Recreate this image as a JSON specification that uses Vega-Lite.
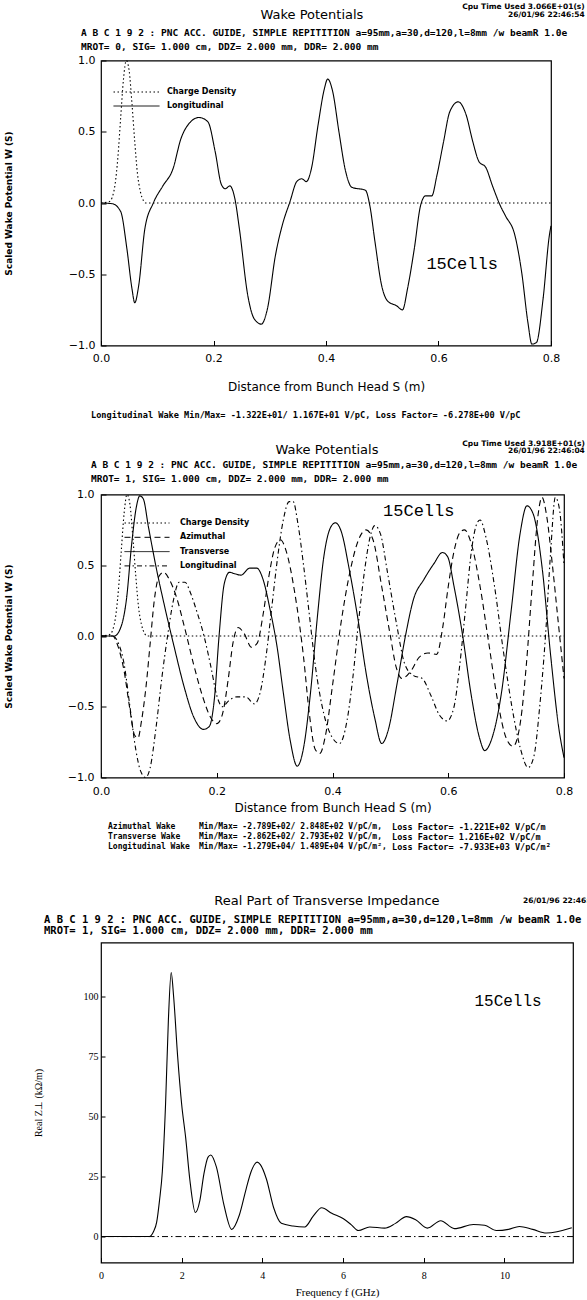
{
  "$schema": "https://vega.github.io/schema/vega-lite/v6.json",
  "padding": {"left": 3, "top": 2.5, "right": 0, "bottom": 0},
  "background": "white",
  "config": {
    "view": {"stroke": "black", "strokeWidth": 1.2},
    "axis": {"domain": false, "grid": false, "tickColor": "black", "labelColor": "black", "titleColor": "black", "labelFlush": false, "labelOverlap": false, "tickWidth": 1},
    "text": {"color": "black"},
    "line": {"color": "black"}
  },
  "datasets": {
    "p1": [
      {"s": 0, "w": 0, "series": "Charge Density"},
      {"s": 0.015, "w": 0.01, "series": "Charge Density"},
      {"s": 0.02, "w": 0.04, "series": "Charge Density"},
      {"s": 0.025, "w": 0.13, "series": "Charge Density"},
      {"s": 0.03, "w": 0.32, "series": "Charge Density"},
      {"s": 0.035, "w": 0.6, "series": "Charge Density"},
      {"s": 0.04, "w": 0.87, "series": "Charge Density"},
      {"s": 0.045, "w": 1.0, "series": "Charge Density"},
      {"s": 0.05, "w": 0.93, "series": "Charge Density"},
      {"s": 0.055, "w": 0.7, "series": "Charge Density"},
      {"s": 0.06, "w": 0.43, "series": "Charge Density"},
      {"s": 0.065, "w": 0.2, "series": "Charge Density"},
      {"s": 0.07, "w": 0.08, "series": "Charge Density"},
      {"s": 0.075, "w": 0.02, "series": "Charge Density"},
      {"s": 0.08, "w": 0, "series": "Charge Density"},
      {"s": 0.8, "w": 0, "series": "Charge Density"},
      {"s": 0, "w": 0, "series": "Longitudinal"},
      {"s": 0.02, "w": -0.005, "series": "Longitudinal"},
      {"s": 0.035, "w": -0.06, "series": "Longitudinal"},
      {"s": 0.046, "w": -0.32, "series": "Longitudinal"},
      {"s": 0.055, "w": -0.6, "series": "Longitudinal"},
      {"s": 0.06, "w": -0.7, "series": "Longitudinal"},
      {"s": 0.067, "w": -0.58, "series": "Longitudinal"},
      {"s": 0.078, "w": -0.18, "series": "Longitudinal"},
      {"s": 0.093, "w": 0, "series": "Longitudinal"},
      {"s": 0.11, "w": 0.12, "series": "Longitudinal"},
      {"s": 0.128, "w": 0.24, "series": "Longitudinal"},
      {"s": 0.142, "w": 0.45, "series": "Longitudinal"},
      {"s": 0.157, "w": 0.56, "series": "Longitudinal"},
      {"s": 0.174, "w": 0.6, "series": "Longitudinal"},
      {"s": 0.19, "w": 0.57, "series": "Longitudinal"},
      {"s": 0.203, "w": 0.36, "series": "Longitudinal"},
      {"s": 0.214, "w": 0.13, "series": "Longitudinal"},
      {"s": 0.221, "w": 0.1, "series": "Longitudinal"},
      {"s": 0.229, "w": 0.12, "series": "Longitudinal"},
      {"s": 0.238, "w": 0.03, "series": "Longitudinal"},
      {"s": 0.246, "w": -0.18, "series": "Longitudinal"},
      {"s": 0.261, "w": -0.65, "series": "Longitudinal"},
      {"s": 0.272, "w": -0.81, "series": "Longitudinal"},
      {"s": 0.285, "w": -0.85, "series": "Longitudinal"},
      {"s": 0.296, "w": -0.74, "series": "Longitudinal"},
      {"s": 0.31, "w": -0.37, "series": "Longitudinal"},
      {"s": 0.322, "w": -0.16, "series": "Longitudinal"},
      {"s": 0.336, "w": 0.01, "series": "Longitudinal"},
      {"s": 0.348, "w": 0.15, "series": "Longitudinal"},
      {"s": 0.357, "w": 0.17, "series": "Longitudinal"},
      {"s": 0.365, "w": 0.15, "series": "Longitudinal"},
      {"s": 0.374, "w": 0.24, "series": "Longitudinal"},
      {"s": 0.386, "w": 0.55, "series": "Longitudinal"},
      {"s": 0.397, "w": 0.8, "series": "Longitudinal"},
      {"s": 0.403, "w": 0.87, "series": "Longitudinal"},
      {"s": 0.412, "w": 0.78, "series": "Longitudinal"},
      {"s": 0.423, "w": 0.5, "series": "Longitudinal"},
      {"s": 0.435, "w": 0.22, "series": "Longitudinal"},
      {"s": 0.446, "w": 0.11, "series": "Longitudinal"},
      {"s": 0.47, "w": 0.09, "series": "Longitudinal"},
      {"s": 0.478, "w": -0.02, "series": "Longitudinal"},
      {"s": 0.487, "w": -0.27, "series": "Longitudinal"},
      {"s": 0.499, "w": -0.58, "series": "Longitudinal"},
      {"s": 0.51, "w": -0.69, "series": "Longitudinal"},
      {"s": 0.525, "w": -0.72, "series": "Longitudinal"},
      {"s": 0.536, "w": -0.75, "series": "Longitudinal"},
      {"s": 0.545, "w": -0.6, "series": "Longitudinal"},
      {"s": 0.557, "w": -0.32, "series": "Longitudinal"},
      {"s": 0.568, "w": -0.02, "series": "Longitudinal"},
      {"s": 0.577, "w": 0.05, "series": "Longitudinal"},
      {"s": 0.588, "w": 0.05, "series": "Longitudinal"},
      {"s": 0.597, "w": 0.19, "series": "Longitudinal"},
      {"s": 0.609, "w": 0.43, "series": "Longitudinal"},
      {"s": 0.62, "w": 0.64, "series": "Longitudinal"},
      {"s": 0.635, "w": 0.71, "series": "Longitudinal"},
      {"s": 0.649, "w": 0.62, "series": "Longitudinal"},
      {"s": 0.661, "w": 0.43, "series": "Longitudinal"},
      {"s": 0.672, "w": 0.29, "series": "Longitudinal"},
      {"s": 0.684, "w": 0.25, "series": "Longitudinal"},
      {"s": 0.696, "w": 0.12, "series": "Longitudinal"},
      {"s": 0.71, "w": -0.02, "series": "Longitudinal"},
      {"s": 0.719, "w": -0.09, "series": "Longitudinal"},
      {"s": 0.736, "w": -0.23, "series": "Longitudinal"},
      {"s": 0.748, "w": -0.49, "series": "Longitudinal"},
      {"s": 0.759, "w": -0.84, "series": "Longitudinal"},
      {"s": 0.766, "w": -0.99, "series": "Longitudinal"},
      {"s": 0.774, "w": -0.98, "series": "Longitudinal"},
      {"s": 0.786, "w": -0.67, "series": "Longitudinal"},
      {"s": 0.797, "w": -0.23, "series": "Longitudinal"},
      {"s": 0.8, "w": -0.16, "series": "Longitudinal"}
    ],
    "p2": [
      {"s": 0, "w": 0, "series": "Charge Density"},
      {"s": 0.015, "w": 0.01, "series": "Charge Density"},
      {"s": 0.02, "w": 0.04, "series": "Charge Density"},
      {"s": 0.025, "w": 0.13, "series": "Charge Density"},
      {"s": 0.03, "w": 0.32, "series": "Charge Density"},
      {"s": 0.035, "w": 0.6, "series": "Charge Density"},
      {"s": 0.04, "w": 0.87, "series": "Charge Density"},
      {"s": 0.045, "w": 1.0, "series": "Charge Density"},
      {"s": 0.05, "w": 0.93, "series": "Charge Density"},
      {"s": 0.055, "w": 0.7, "series": "Charge Density"},
      {"s": 0.06, "w": 0.43, "series": "Charge Density"},
      {"s": 0.065, "w": 0.2, "series": "Charge Density"},
      {"s": 0.07, "w": 0.08, "series": "Charge Density"},
      {"s": 0.075, "w": 0.02, "series": "Charge Density"},
      {"s": 0.08, "w": 0, "series": "Charge Density"},
      {"s": 0.8, "w": 0, "series": "Charge Density"},
      {"s": 0, "w": 0, "series": "Azimuthal"},
      {"s": 0.02, "w": 0, "series": "Azimuthal"},
      {"s": 0.03, "w": -0.08, "series": "Azimuthal"},
      {"s": 0.04, "w": -0.25, "series": "Azimuthal"},
      {"s": 0.05, "w": -0.52, "series": "Azimuthal"},
      {"s": 0.058, "w": -0.7, "series": "Azimuthal"},
      {"s": 0.064, "w": -0.72, "series": "Azimuthal"},
      {"s": 0.07, "w": -0.6, "series": "Azimuthal"},
      {"s": 0.078, "w": -0.35, "series": "Azimuthal"},
      {"s": 0.085, "w": -0.05, "series": "Azimuthal"},
      {"s": 0.092, "w": 0.25, "series": "Azimuthal"},
      {"s": 0.1, "w": 0.42, "series": "Azimuthal"},
      {"s": 0.108, "w": 0.45, "series": "Azimuthal"},
      {"s": 0.118, "w": 0.4, "series": "Azimuthal"},
      {"s": 0.13, "w": 0.28, "series": "Azimuthal"},
      {"s": 0.145, "w": 0.05, "series": "Azimuthal"},
      {"s": 0.16, "w": -0.2, "series": "Azimuthal"},
      {"s": 0.175, "w": -0.42, "series": "Azimuthal"},
      {"s": 0.19, "w": -0.58, "series": "Azimuthal"},
      {"s": 0.2, "w": -0.62, "series": "Azimuthal"},
      {"s": 0.21, "w": -0.55, "series": "Azimuthal"},
      {"s": 0.22, "w": -0.3, "series": "Azimuthal"},
      {"s": 0.228, "w": -0.05, "series": "Azimuthal"},
      {"s": 0.237, "w": 0.06, "series": "Azimuthal"},
      {"s": 0.247, "w": 0.02, "series": "Azimuthal"},
      {"s": 0.26, "w": -0.08, "series": "Azimuthal"},
      {"s": 0.27, "w": -0.05, "series": "Azimuthal"},
      {"s": 0.28, "w": 0.15, "series": "Azimuthal"},
      {"s": 0.29, "w": 0.42, "series": "Azimuthal"},
      {"s": 0.3, "w": 0.62, "series": "Azimuthal"},
      {"s": 0.31, "w": 0.68, "series": "Azimuthal"},
      {"s": 0.32, "w": 0.6, "series": "Azimuthal"},
      {"s": 0.335, "w": 0.3, "series": "Azimuthal"},
      {"s": 0.35, "w": -0.15, "series": "Azimuthal"},
      {"s": 0.36, "w": -0.55, "series": "Azimuthal"},
      {"s": 0.37, "w": -0.8, "series": "Azimuthal"},
      {"s": 0.378, "w": -0.83, "series": "Azimuthal"},
      {"s": 0.388, "w": -0.7, "series": "Azimuthal"},
      {"s": 0.4, "w": -0.35, "series": "Azimuthal"},
      {"s": 0.415, "w": 0.1, "series": "Azimuthal"},
      {"s": 0.43, "w": 0.45, "series": "Azimuthal"},
      {"s": 0.445, "w": 0.68, "series": "Azimuthal"},
      {"s": 0.458, "w": 0.75, "series": "Azimuthal"},
      {"s": 0.47, "w": 0.68, "series": "Azimuthal"},
      {"s": 0.485, "w": 0.35, "series": "Azimuthal"},
      {"s": 0.5, "w": 0.0, "series": "Azimuthal"},
      {"s": 0.51, "w": -0.22, "series": "Azimuthal"},
      {"s": 0.52, "w": -0.3, "series": "Azimuthal"},
      {"s": 0.535, "w": -0.25, "series": "Azimuthal"},
      {"s": 0.55, "w": -0.15, "series": "Azimuthal"},
      {"s": 0.565, "w": -0.12, "series": "Azimuthal"},
      {"s": 0.58, "w": -0.13, "series": "Azimuthal"},
      {"s": 0.59, "w": 0.05, "series": "Azimuthal"},
      {"s": 0.6, "w": 0.35, "series": "Azimuthal"},
      {"s": 0.61, "w": 0.6, "series": "Azimuthal"},
      {"s": 0.62, "w": 0.73, "series": "Azimuthal"},
      {"s": 0.628, "w": 0.75, "series": "Azimuthal"},
      {"s": 0.64, "w": 0.65, "series": "Azimuthal"},
      {"s": 0.655, "w": 0.35, "series": "Azimuthal"},
      {"s": 0.67, "w": -0.05, "series": "Azimuthal"},
      {"s": 0.685, "w": -0.45, "series": "Azimuthal"},
      {"s": 0.7, "w": -0.72, "series": "Azimuthal"},
      {"s": 0.712, "w": -0.78, "series": "Azimuthal"},
      {"s": 0.725, "w": -0.6, "series": "Azimuthal"},
      {"s": 0.735, "w": -0.2, "series": "Azimuthal"},
      {"s": 0.745, "w": 0.35, "series": "Azimuthal"},
      {"s": 0.755, "w": 0.85, "series": "Azimuthal"},
      {"s": 0.762, "w": 0.98, "series": "Azimuthal"},
      {"s": 0.77, "w": 0.85, "series": "Azimuthal"},
      {"s": 0.78, "w": 0.5, "series": "Azimuthal"},
      {"s": 0.79, "w": 0.1, "series": "Azimuthal"},
      {"s": 0.8, "w": -0.3, "series": "Azimuthal"},
      {"s": 0, "w": 0, "series": "Transverse"},
      {"s": 0.023, "w": 0, "series": "Transverse"},
      {"s": 0.035, "w": 0.07, "series": "Transverse"},
      {"s": 0.044, "w": 0.26, "series": "Transverse"},
      {"s": 0.053, "w": 0.65, "series": "Transverse"},
      {"s": 0.061, "w": 0.91, "series": "Transverse"},
      {"s": 0.067, "w": 0.99, "series": "Transverse"},
      {"s": 0.073, "w": 0.97, "series": "Transverse"},
      {"s": 0.082, "w": 0.77, "series": "Transverse"},
      {"s": 0.096, "w": 0.47, "series": "Transverse"},
      {"s": 0.111, "w": 0.19, "series": "Transverse"},
      {"s": 0.126, "w": -0.07, "series": "Transverse"},
      {"s": 0.143, "w": -0.35, "series": "Transverse"},
      {"s": 0.161, "w": -0.58, "series": "Transverse"},
      {"s": 0.177, "w": -0.66, "series": "Transverse"},
      {"s": 0.187, "w": -0.64, "series": "Transverse"},
      {"s": 0.196, "w": -0.44, "series": "Transverse"},
      {"s": 0.204, "w": 0, "series": "Transverse"},
      {"s": 0.213, "w": 0.37, "series": "Transverse"},
      {"s": 0.222, "w": 0.45, "series": "Transverse"},
      {"s": 0.231, "w": 0.44, "series": "Transverse"},
      {"s": 0.242, "w": 0.43, "series": "Transverse"},
      {"s": 0.257, "w": 0.48, "series": "Transverse"},
      {"s": 0.269, "w": 0.48, "series": "Transverse"},
      {"s": 0.28, "w": 0.4, "series": "Transverse"},
      {"s": 0.292, "w": 0.19, "series": "Transverse"},
      {"s": 0.304, "w": -0.07, "series": "Transverse"},
      {"s": 0.315, "w": -0.4, "series": "Transverse"},
      {"s": 0.327, "w": -0.74, "series": "Transverse"},
      {"s": 0.339, "w": -0.92, "series": "Transverse"},
      {"s": 0.35, "w": -0.79, "series": "Transverse"},
      {"s": 0.362, "w": -0.4, "series": "Transverse"},
      {"s": 0.374, "w": 0.14, "series": "Transverse"},
      {"s": 0.385, "w": 0.56, "series": "Transverse"},
      {"s": 0.397, "w": 0.77, "series": "Transverse"},
      {"s": 0.405, "w": 0.8, "series": "Transverse"},
      {"s": 0.415, "w": 0.74, "series": "Transverse"},
      {"s": 0.429, "w": 0.47, "series": "Transverse"},
      {"s": 0.444, "w": 0.12, "series": "Transverse"},
      {"s": 0.458, "w": -0.26, "series": "Transverse"},
      {"s": 0.473, "w": -0.58, "series": "Transverse"},
      {"s": 0.485, "w": -0.76, "series": "Transverse"},
      {"s": 0.496, "w": -0.67, "series": "Transverse"},
      {"s": 0.511, "w": -0.35, "series": "Transverse"},
      {"s": 0.526, "w": 0, "series": "Transverse"},
      {"s": 0.54, "w": 0.26, "series": "Transverse"},
      {"s": 0.558, "w": 0.4, "series": "Transverse"},
      {"s": 0.575, "w": 0.51, "series": "Transverse"},
      {"s": 0.59, "w": 0.59, "series": "Transverse"},
      {"s": 0.599, "w": 0.56, "series": "Transverse"},
      {"s": 0.61, "w": 0.35, "series": "Transverse"},
      {"s": 0.625, "w": 0, "series": "Transverse"},
      {"s": 0.639, "w": -0.4, "series": "Transverse"},
      {"s": 0.654, "w": -0.72, "series": "Transverse"},
      {"s": 0.663, "w": -0.81, "series": "Transverse"},
      {"s": 0.674, "w": -0.74, "series": "Transverse"},
      {"s": 0.692, "w": -0.4, "series": "Transverse"},
      {"s": 0.709, "w": 0.19, "series": "Transverse"},
      {"s": 0.724, "w": 0.72, "series": "Transverse"},
      {"s": 0.736, "w": 0.92, "series": "Transverse"},
      {"s": 0.747, "w": 0.86, "series": "Transverse"},
      {"s": 0.762, "w": 0.49, "series": "Transverse"},
      {"s": 0.777, "w": -0.14, "series": "Transverse"},
      {"s": 0.791, "w": -0.65, "series": "Transverse"},
      {"s": 0.8, "w": -0.86, "series": "Transverse"},
      {"s": 0, "w": 0, "series": "Longitudinal"},
      {"s": 0.02, "w": 0, "series": "Longitudinal"},
      {"s": 0.03, "w": -0.05, "series": "Longitudinal"},
      {"s": 0.04, "w": -0.2, "series": "Longitudinal"},
      {"s": 0.05, "w": -0.5, "series": "Longitudinal"},
      {"s": 0.06, "w": -0.8, "series": "Longitudinal"},
      {"s": 0.068, "w": -0.95, "series": "Longitudinal"},
      {"s": 0.077, "w": -1.0, "series": "Longitudinal"},
      {"s": 0.085, "w": -0.93, "series": "Longitudinal"},
      {"s": 0.095, "w": -0.65, "series": "Longitudinal"},
      {"s": 0.105, "w": -0.3, "series": "Longitudinal"},
      {"s": 0.115, "w": 0.0, "series": "Longitudinal"},
      {"s": 0.125, "w": 0.25, "series": "Longitudinal"},
      {"s": 0.135, "w": 0.38, "series": "Longitudinal"},
      {"s": 0.145, "w": 0.38, "series": "Longitudinal"},
      {"s": 0.155, "w": 0.3, "series": "Longitudinal"},
      {"s": 0.165, "w": 0.18, "series": "Longitudinal"},
      {"s": 0.178, "w": 0.0, "series": "Longitudinal"},
      {"s": 0.19, "w": -0.22, "series": "Longitudinal"},
      {"s": 0.2, "w": -0.42, "series": "Longitudinal"},
      {"s": 0.21, "w": -0.5, "series": "Longitudinal"},
      {"s": 0.22, "w": -0.46, "series": "Longitudinal"},
      {"s": 0.235, "w": -0.43, "series": "Longitudinal"},
      {"s": 0.25, "w": -0.43, "series": "Longitudinal"},
      {"s": 0.265, "w": -0.48, "series": "Longitudinal"},
      {"s": 0.275, "w": -0.4, "series": "Longitudinal"},
      {"s": 0.285, "w": -0.15, "series": "Longitudinal"},
      {"s": 0.295, "w": 0.2, "series": "Longitudinal"},
      {"s": 0.305, "w": 0.55, "series": "Longitudinal"},
      {"s": 0.315, "w": 0.82, "series": "Longitudinal"},
      {"s": 0.325, "w": 0.95, "series": "Longitudinal"},
      {"s": 0.332, "w": 0.95, "series": "Longitudinal"},
      {"s": 0.34, "w": 0.8, "series": "Longitudinal"},
      {"s": 0.35, "w": 0.5, "series": "Longitudinal"},
      {"s": 0.36, "w": 0.15, "series": "Longitudinal"},
      {"s": 0.37, "w": -0.2, "series": "Longitudinal"},
      {"s": 0.385, "w": -0.55, "series": "Longitudinal"},
      {"s": 0.4, "w": -0.72, "series": "Longitudinal"},
      {"s": 0.412, "w": -0.76, "series": "Longitudinal"},
      {"s": 0.425, "w": -0.6, "series": "Longitudinal"},
      {"s": 0.435, "w": -0.3, "series": "Longitudinal"},
      {"s": 0.445, "w": 0.1, "series": "Longitudinal"},
      {"s": 0.455, "w": 0.45, "series": "Longitudinal"},
      {"s": 0.465, "w": 0.7, "series": "Longitudinal"},
      {"s": 0.473, "w": 0.78, "series": "Longitudinal"},
      {"s": 0.483, "w": 0.72, "series": "Longitudinal"},
      {"s": 0.495, "w": 0.45, "series": "Longitudinal"},
      {"s": 0.51, "w": 0.1, "series": "Longitudinal"},
      {"s": 0.525, "w": -0.2, "series": "Longitudinal"},
      {"s": 0.54, "w": -0.28, "series": "Longitudinal"},
      {"s": 0.555, "w": -0.3, "series": "Longitudinal"},
      {"s": 0.57, "w": -0.42, "series": "Longitudinal"},
      {"s": 0.585, "w": -0.56, "series": "Longitudinal"},
      {"s": 0.598, "w": -0.6, "series": "Longitudinal"},
      {"s": 0.61, "w": -0.5, "series": "Longitudinal"},
      {"s": 0.62, "w": -0.2, "series": "Longitudinal"},
      {"s": 0.63, "w": 0.2, "series": "Longitudinal"},
      {"s": 0.64, "w": 0.6, "series": "Longitudinal"},
      {"s": 0.65, "w": 0.8, "series": "Longitudinal"},
      {"s": 0.655, "w": 0.82, "series": "Longitudinal"},
      {"s": 0.665, "w": 0.7, "series": "Longitudinal"},
      {"s": 0.68, "w": 0.35, "series": "Longitudinal"},
      {"s": 0.695, "w": -0.1, "series": "Longitudinal"},
      {"s": 0.71, "w": -0.5, "series": "Longitudinal"},
      {"s": 0.725, "w": -0.8, "series": "Longitudinal"},
      {"s": 0.738, "w": -0.93, "series": "Longitudinal"},
      {"s": 0.748, "w": -0.85, "series": "Longitudinal"},
      {"s": 0.758, "w": -0.5, "series": "Longitudinal"},
      {"s": 0.768, "w": 0.0, "series": "Longitudinal"},
      {"s": 0.777, "w": 0.6, "series": "Longitudinal"},
      {"s": 0.785, "w": 0.98, "series": "Longitudinal"},
      {"s": 0.792, "w": 0.9, "series": "Longitudinal"},
      {"s": 0.8, "w": 0.5, "series": "Longitudinal"}
    ],
    "p3": [
      {"f": 0, "z": 0}, {"f": 1.2, "z": 0}, {"f": 1.3, "z": 2}, {"f": 1.38, "z": 6},
      {"f": 1.45, "z": 15}, {"f": 1.52, "z": 27}, {"f": 1.6, "z": 55}, {"f": 1.67, "z": 90},
      {"f": 1.74, "z": 110}, {"f": 1.8, "z": 100}, {"f": 1.9, "z": 75}, {"f": 2.0, "z": 55},
      {"f": 2.1, "z": 41}, {"f": 2.2, "z": 24}, {"f": 2.34, "z": 10}, {"f": 2.45, "z": 15},
      {"f": 2.55, "z": 26}, {"f": 2.65, "z": 33}, {"f": 2.72, "z": 34}, {"f": 2.86, "z": 29},
      {"f": 3.05, "z": 13}, {"f": 3.24, "z": 3}, {"f": 3.43, "z": 9}, {"f": 3.6, "z": 20},
      {"f": 3.72, "z": 27}, {"f": 3.87, "z": 31}, {"f": 3.95, "z": 30}, {"f": 4.1, "z": 24},
      {"f": 4.28, "z": 12}, {"f": 4.47, "z": 5.5}, {"f": 4.76, "z": 4.4}, {"f": 5.05, "z": 4},
      {"f": 5.26, "z": 8.5}, {"f": 5.47, "z": 12}, {"f": 5.72, "z": 9.7}, {"f": 6.0, "z": 7.5},
      {"f": 6.2, "z": 5}, {"f": 6.38, "z": 2.5}, {"f": 6.66, "z": 4}, {"f": 7.03, "z": 3.5},
      {"f": 7.3, "z": 5.5}, {"f": 7.57, "z": 8.3}, {"f": 7.8, "z": 7}, {"f": 8.09, "z": 3.5},
      {"f": 8.42, "z": 6.6}, {"f": 8.76, "z": 3.3}, {"f": 9.23, "z": 5}, {"f": 9.51, "z": 4.7},
      {"f": 9.8, "z": 2.5}, {"f": 10.1, "z": 3}, {"f": 10.37, "z": 4.2}, {"f": 10.7, "z": 3},
      {"f": 11.04, "z": 1.5}, {"f": 11.67, "z": 3.7}
    ]
  },
  "columns": 1,
  "align": "none",
  "bounds": "full",
  "spacing": 41,
  "resolve": {"scale": {"strokeDash": "independent"}, "legend": {"strokeDash": "independent"}},
  "concat": [
    {
      "columns": 1,
      "align": "none",
      "bounds": "full",
      "spacing": 17,
      "resolve": {"scale": {"strokeDash": "independent"}, "legend": {"strokeDash": "independent"}},
      "concat": [
        {
          "width": 450,
          "height": 285,
          "layer": [
            {
              "data": {"name": "p1"},
              "mark": {"type": "line", "strokeWidth": 1.1, "color": "black", "interpolate": "monotone"},
              "encoding": {
                "x": {"field": "s", "type": "quantitative", "scale": {"domain": [0, 0.8], "nice": false, "zero": false},
                  "axis": {"title": "Distance from Bunch Head S (m)", "values": [0, 0.2, 0.4, 0.6, 0.8], "format": ".1f", "labelFont": "DejaVu Sans", "labelFontSize": 11, "tickSize": -5, "labelPadding": 11.5, "titleFont": "DejaVu Sans", "titleFontSize": 12, "titleFontWeight": "normal", "titlePadding": 18}},
                "y": {"field": "w", "type": "quantitative", "scale": {"domain": [-1, 1], "nice": false},
                  "axis": {"title": "Scaled Wake Potential W (S)", "values": [-1, -0.5, 0, 0.5, 1], "format": ".1f", "labelFont": "DejaVu Sans", "labelFontSize": 11, "tickSize": -5, "labelPadding": 11, "titleFont": "DejaVu Sans", "titleFontSize": 9, "titleFontWeight": "bold", "titleX": -87.5}},
                "strokeDash": {"field": "series", "type": "nominal",
                  "scale": {"domain": ["Charge Density", "Longitudinal"], "range": [[1.5, 2.5], [1, 0]]},
                  "legend": {"orient": "none", "legendX": 30, "legendY": 26, "title": null, "symbolType": "M-4.6,0H4.6", "symbolSize": 100, "symbolStrokeWidth": 1, "symbolStrokeColor": "black", "symbolFillColor": "transparent", "labelFont": "DejaVu Sans", "labelFontSize": 8, "labelFontWeight": "bold", "labelColor": "black", "labelOffset": 25, "rowPadding": 4, "padding": 0}}
              }
            },
            {
              "data": {"values": [{}]},
              "mark": {"type": "text", "font": "DejaVu Sans", "fontSize": 13, "align": "center", "baseline": "middle"},
              "encoding": {"x": {"datum": 0.375, "type": "quantitative"}, "y": {"datum": 1.316, "type": "quantitative"}, "text": {"value": "Wake Potentials"}}
            },
            {
              "data": {"values": [{}]},
              "mark": {"type": "text", "font": "DejaVu Sans", "fontSize": 7.5, "fontWeight": "bold", "align": "right", "baseline": "middle", "lineHeight": 7.5},
              "encoding": {"x": {"datum": 0.86, "type": "quantitative"}, "y": {"datum": 1.372, "type": "quantitative"}, "text": {"value": ["Cpu Time Used  3.066E+01(s)", "26/01/96  22:46:54"]}}
            },
            {
              "data": {"values": [{}]},
              "mark": {"type": "text", "font": "DejaVu Sans Mono", "fontSize": 9.5, "fontWeight": "bold", "align": "left", "baseline": "middle", "lineHeight": 14},
              "encoding": {"x": {"datum": -0.0356, "type": "quantitative"}, "y": {"datum": 1.196, "type": "quantitative"}, "text": {"value": ["A B C 1 9 2 :  PNC ACC. GUIDE, SIMPLE REPITITION a=95mm,a=30,d=120,l=8mm  /w beamR 1.0e", "MROT= 0,  SIG= 1.000 cm,  DDZ= 2.000 mm,  DDR= 2.000 mm"]}}
            },
            {
              "data": {"values": [{}]},
              "mark": {"type": "text", "font": "Liberation Mono", "fontSize": 17, "align": "center", "baseline": "middle"},
              "encoding": {"x": {"datum": 0.642, "type": "quantitative"}, "y": {"datum": -0.425, "type": "quantitative"}, "text": {"value": "15Cells"}}
            },
            {
              "data": {"values": [{}]},
              "mark": {"type": "text", "font": "DejaVu Sans Mono", "fontSize": 8.6, "fontWeight": "bold", "align": "left", "baseline": "middle"},
              "encoding": {"x": {"datum": -0.0178, "type": "quantitative"}, "y": {"datum": -1.49, "type": "quantitative"}, "text": {"value": "Longitudinal Wake  Min/Max= -1.322E+01/ 1.167E+01 V/pC,    Loss Factor= -6.278E+00 V/pC"}}
            }
          ]
        },
        {
          "width": 463,
          "height": 283,
          "layer": [
            {
              "data": {"name": "p2"},
              "mark": {"type": "line", "strokeWidth": 1.1, "color": "black", "interpolate": "monotone"},
              "encoding": {
                "x": {"field": "s", "type": "quantitative", "scale": {"domain": [0, 0.8], "nice": false, "zero": false},
                  "axis": {"title": "Distance from Bunch Head S (m)", "values": [0, 0.2, 0.4, 0.6, 0.8], "format": ".1f", "labelFont": "DejaVu Sans", "labelFontSize": 11, "tickSize": -5, "labelPadding": 12.5, "titleFont": "DejaVu Sans", "titleFontSize": 12, "titleFontWeight": "normal", "titlePadding": 6}},
                "y": {"field": "w", "type": "quantitative", "scale": {"domain": [-1, 1], "nice": false},
                  "axis": {"title": "Scaled Wake Potential W (S)", "values": [-1, -0.5, 0, 0.5, 1], "format": ".1f", "labelFont": "DejaVu Sans", "labelFontSize": 11, "tickSize": -5, "labelPadding": 12, "titleFont": "DejaVu Sans", "titleFontSize": 9, "titleFontWeight": "bold", "titleX": -87.5}},
                "strokeDash": {"field": "series", "type": "nominal",
                  "scale": {"domain": ["Charge Density", "Azimuthal", "Transverse", "Longitudinal"], "range": [[1.5, 2.5], [6, 4], [1, 0], [5, 3, 1.5, 3]]},
                  "legend": {"orient": "none", "legendX": 40.5, "legendY": 23, "title": null, "symbolType": "M-4.5,0H4.5", "symbolSize": 100, "symbolStrokeWidth": 1, "symbolStrokeColor": "black", "symbolFillColor": "transparent", "labelFont": "DejaVu Sans", "labelFontSize": 8, "labelFontWeight": "bold", "labelColor": "black", "labelOffset": 27.5, "rowPadding": 4.3, "padding": 0}}
              }
            },
            {
              "data": {"values": [{}]},
              "mark": {"type": "text", "font": "DejaVu Sans", "fontSize": 13, "align": "center", "baseline": "middle"},
              "encoding": {"x": {"datum": 0.3905, "type": "quantitative"}, "y": {"datum": 1.311, "type": "quantitative"}, "text": {"value": "Wake Potentials"}}
            },
            {
              "data": {"values": [{}]},
              "mark": {"type": "text", "font": "DejaVu Sans", "fontSize": 7.5, "fontWeight": "bold", "align": "right", "baseline": "middle", "lineHeight": 7.5},
              "encoding": {"x": {"datum": 0.836, "type": "quantitative"}, "y": {"datum": 1.36, "type": "quantitative"}, "text": {"value": ["Cpu Time Used  3.918E+01(s)", "26/01/96  22:46:04"]}}
            },
            {
              "data": {"values": [{}]},
              "mark": {"type": "text", "font": "DejaVu Sans Mono", "fontSize": 9.5, "fontWeight": "bold", "align": "left", "baseline": "middle", "lineHeight": 14},
              "encoding": {"x": {"datum": -0.0173, "type": "quantitative"}, "y": {"datum": 1.205, "type": "quantitative"}, "text": {"value": ["A B C 1 9 2 :  PNC ACC. GUIDE, SIMPLE REPITITION a=95mm,a=30,d=120,l=8mm  /w beamR 1.0e", "MROT= 1,  SIG= 1.000 cm,  DDZ= 2.000 mm,  DDR= 2.000 mm"]}}
            },
            {
              "data": {"values": [{}]},
              "mark": {"type": "text", "font": "Liberation Mono", "fontSize": 17, "align": "center", "baseline": "middle"},
              "encoding": {"x": {"datum": 0.549, "type": "quantitative"}, "y": {"datum": 0.88, "type": "quantitative"}, "text": {"value": "15Cells"}}
            },
            {
              "data": {"values": [{}]},
              "mark": {"type": "text", "font": "DejaVu Sans Mono", "fontSize": 8, "fontWeight": "bold", "align": "left", "baseline": "middle", "lineHeight": 10},
              "encoding": {"x": {"datum": 0.0121, "type": "quantitative"}, "y": {"datum": -1.353, "type": "quantitative"}, "text": {"value": ["Azimuthal Wake", "Transverse Wake", "Longitudinal Wake"]}}
            },
            {
              "data": {"values": [{}]},
              "mark": {"type": "text", "font": "DejaVu Sans Mono", "fontSize": 8, "fontWeight": "bold", "align": "left", "baseline": "middle", "lineHeight": 10},
              "encoding": {"x": {"datum": 0.1693, "type": "quantitative"}, "y": {"datum": -1.353, "type": "quantitative"}, "text": {"value": ["Min/Max= -2.789E+02/ 2.848E+02 V/pC/m,", "Min/Max= -2.862E+02/ 2.793E+02 V/pC/m,", "Min/Max= -1.279E+04/ 1.489E+04 V/pC/m²,"]}}
            },
            {
              "data": {"values": [{}]},
              "mark": {"type": "text", "font": "DejaVu Sans Mono", "fontSize": 8.5, "fontWeight": "bold", "align": "left", "baseline": "middle", "lineHeight": 10},
              "encoding": {"x": {"datum": 0.503, "type": "quantitative"}, "y": {"datum": -1.353, "type": "quantitative"}, "text": {"value": ["Loss Factor= -1.221E+02 V/pC/m", "Loss Factor=  1.216E+02 V/pC/m", "Loss Factor= -7.933E+03 V/pC/m²"]}}
            }
          ]
        }
      ]
    },
    {
      "width": 472,
      "height": 320,
      "layer": [
        {
          "data": {"values": [{}]},
          "mark": {"type": "rule", "strokeDash": [6, 3, 1.5, 3], "strokeWidth": 1, "color": "black"},
          "encoding": {"y": {"datum": 0, "type": "quantitative"}}
        },
        {
          "data": {"name": "p3"},
          "mark": {"type": "line", "strokeWidth": 1.1, "color": "black", "interpolate": "monotone"},
          "encoding": {
            "x": {"field": "f", "type": "quantitative", "scale": {"domain": [0, 11.7], "nice": false, "zero": false},
              "axis": {"title": "Frequency f (GHz)", "values": [0, 2, 4, 6, 8, 10], "format": "d", "labelFont": "Liberation Serif", "labelFontSize": 10, "tickSize": -5, "labelPadding": 13, "titleFont": "Liberation Serif", "titleFontSize": 11, "titleFontWeight": "normal", "titlePadding": 6}},
            "y": {"field": "z", "type": "quantitative", "scale": {"domain": [-10.8, 122.5], "nice": false, "zero": false},
              "axis": {"title": "Real  Z⊥   (kΩ/m)", "values": [0, 25, 50, 75, 100], "format": "d", "labelFont": "Liberation Serif", "labelFontSize": 10, "tickSize": -4, "labelPadding": 7, "titleFont": "Liberation Serif", "titleFontSize": 10, "titleFontWeight": "normal", "titleX": -58}}
          }
        },
        {
          "data": {"values": [{}]},
          "mark": {"type": "text", "font": "DejaVu Sans", "fontSize": 13, "align": "center", "baseline": "middle"},
          "encoding": {"x": {"datum": 5.6, "type": "quantitative"}, "y": {"datum": 139.6, "type": "quantitative"}, "text": {"value": "Real Part of Transverse Impedance"}}
        },
        {
          "data": {"values": [{}]},
          "mark": {"type": "text", "font": "DejaVu Sans", "fontSize": 7.5, "fontWeight": "bold", "align": "left", "baseline": "middle"},
          "encoding": {"x": {"datum": 10.46, "type": "quantitative"}, "y": {"datum": 139.6, "type": "quantitative"}, "text": {"value": "26/01/96  22:46:04"}}
        },
        {
          "data": {"values": [{}]},
          "mark": {"type": "text", "font": "DejaVu Sans Mono", "fontSize": 10.5, "fontWeight": "bold", "align": "left", "baseline": "middle", "lineHeight": 11},
          "encoding": {"x": {"datum": -1.413, "type": "quantitative"}, "y": {"datum": 131.7, "type": "quantitative"}, "text": {"value": ["A B C 1 9 2 :  PNC ACC. GUIDE, SIMPLE REPITITION a=95mm,a=30,d=120,l=8mm  /w beamR 1.0e", "MROT= 1,  SIG= 1.000 cm,  DDZ= 2.000 mm,  DDR= 2.000 mm"]}}
        },
        {
          "data": {"values": [{}]},
          "mark": {"type": "text", "font": "Liberation Mono", "fontSize": 16, "align": "center", "baseline": "middle"},
          "encoding": {"x": {"datum": 10.09, "type": "quantitative"}, "y": {"datum": 98, "type": "quantitative"}, "text": {"value": "15Cells"}}
        }
      ]
    }
  ]
}
